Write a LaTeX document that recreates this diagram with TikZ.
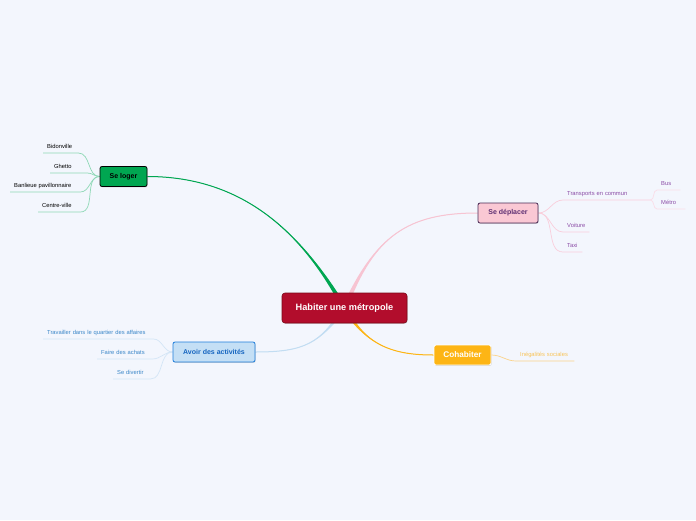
\documentclass[tikz,border=0pt]{standalone}
\usepackage{fontspec}
\setmainfont{Liberation Sans}
\usetikzlibrary{calc,shadows}

\definecolor{pagebg}{HTML}{F3F6FD}
\definecolor{hubred}{HTML}{B20D2C}
\definecolor{hubedge}{HTML}{7A0818}
\definecolor{logergreen}{HTML}{00A651}
\definecolor{logertwig}{HTML}{8ED8B6}
\definecolor{depfill}{HTML}{FAC8D4}
\definecolor{depedge}{HTML}{4A2B55}
\definecolor{deptext}{HTML}{5E2F73}
\definecolor{depleaf}{HTML}{8A4BA6}
\definecolor{deppink}{HTML}{F7C4D2}
\definecolor{deptwig}{HTML}{F9CEDB}
\definecolor{depsub}{HTML}{FADDE7}
\definecolor{actfill}{HTML}{C4DFF5}
\definecolor{actedge}{HTML}{1E7DDB}
\definecolor{acttext}{HTML}{1565C0}
\definecolor{actleaf}{HTML}{3A86C8}
\definecolor{actbranch}{HTML}{C2DDF2}
\definecolor{acttwig}{HTML}{D3E5F6}
\definecolor{cohyellow}{HTML}{FDB515}
\definecolor{cohleaf}{HTML}{F8C357}
\definecolor{cohtwig}{HTML}{FBD38A}

\pgfdeclarelayer{bg}
\pgfdeclarelayer{links}
\pgfsetlayers{bg,links,main}

% tapered main branch: colour, from, to, first control offset, second control offset
\newcommand{\branch}[5]{%
  \fill[#1] (#2) .. controls ($(#2)+(#4)$) and ($(#3)+(#5)$) .. ($(#3)+(-2.8,0)$)
    -- ($(#3)+(2.8,0)$) .. controls ($(#3)+(#5)$) and ($(#2)+(#4)$) .. (#2) -- cycle;
  \draw[#1, line width=1pt] (#2) .. controls +(#4) and +(#5) .. (#3);}

\begin{document}
\begin{tikzpicture}[x=1pt, y=-1pt,
    hubbox/.style={draw=hubedge, line width=0.6pt, fill=hubred, text=white,
      rounded corners=3pt, minimum width=125pt, minimum height=30pt, inner sep=0pt,
      font=\fontsize{9.2}{11}\selectfont\bfseries,
      drop shadow={shadow xshift=0.6pt, shadow yshift=-0.8pt, opacity=0.3}},
    topic/.style={rounded corners=2pt, minimum height=20pt, inner sep=0pt,
      line width=0.8pt, font=\fontsize{7}{8.5}\selectfont\bfseries,
      drop shadow={shadow xshift=0.6pt, shadow yshift=-0.8pt, opacity=0.3}},
    leaf/.style={anchor=south west, inner xsep=4pt, inner ysep=3pt, align=left,
      text height=4.4pt, text depth=1.2pt, font=\fontsize{5.8}{7}\selectfont},
    twig/.style={line width=0.7pt}]

  % page
  \begin{pgfonlayer}{bg}
    \fill[pagebg] (0,0) rectangle (696,520);
  \end{pgfonlayer}
  \useasboundingbox (0,0) rectangle (696,520);

  % centre and topics
  \node[hubbox] (hub) at (344.5,308) {Habiter une métropole};
  \node[topic, draw=black, fill=logergreen, text=black, minimum width=47pt] (loger) at (123.5,176.5) {Se loger};
  \node[topic, draw=depedge, fill=depfill, text=deptext, minimum width=60pt] (deplacer) at (508,213) {Se déplacer};
  \node[topic, draw=actedge, fill=actfill, text=acttext, minimum width=82pt] (activites) at (214,352) {Avoir des activités};
  \node[topic, draw=white, fill=cohyellow, text=white, minimum width=57pt,
    font=\fontsize{8.2}{10}\selectfont\bfseries] (cohab) at (462.5,355) {Cohabiter};

  % Se loger leaves
  \node[leaf, text width=27pt] (bidon) at (43,153) {Bidonville};
  \node[leaf, text width=29pt] (ghetto) at (50,173) {Ghetto};
  \node[leaf, text width=62pt] (banlieue) at (10,192) {Banlieue pavillonnaire};
  \node[leaf, text width=34pt] (centre) at (38,212) {Centre-ville};

  % Se deplacer leaves
  \node[leaf, text width=79pt, text=depleaf] (transports) at (563,200) {Transports en commun};
  \node[leaf, text width=18pt, text=depleaf] (voiture) at (563,232) {Voiture};
  \node[leaf, text width=11pt, text=depleaf] (taxi) at (563,252) {Taxi};
  \node[leaf, text width=15pt, text=depleaf] (bus) at (657,190) {Bus};
  \node[leaf, text width=20pt, text=depleaf] (metro) at (657,209) {Métro};

  % Avoir des activites leaves
  \node[leaf, text width=102pt, text=actleaf] (travail) at (43,339) {Travailler dans le quartier des affaires};
  \node[leaf, text width=47pt, text=actleaf] (achats) at (97,359) {Faire des achats};
  \node[leaf, text width=29pt, text=actleaf] (divertir) at (113,379) {Se divertir};

  % Cohabiter leaf
  \node[leaf, text width=50pt, text=cohleaf] (inegal) at (516,361) {Inégalités sociales};

  \begin{pgfonlayer}{links}
    % main branches
    \branch{logergreen}{loger.east}{hub.center}{100,0}{-40,-70}
    \branch{deppink}{deplacer.west}{hub.center}{-70,0}{30,-72}
    \branch{actbranch}{activites.east}{hub.center}{50,0}{-25,35}
    \branch{cohyellow}{cohab.west}{hub.center}{-40,0}{22,38}

    % underlines and twigs
    \foreach \n in {bidon,ghetto,banlieue,centre}{
      \draw[twig, logertwig] (\n.south west) -- (\n.south east) to[out=0,in=180] (loger.west);
    }
    \foreach \n in {transports,voiture,taxi}{
      \draw[twig, deptwig] (\n.south east) -- (\n.south west) to[out=180,in=0] (deplacer.east);
    }
    \foreach \n in {bus,metro}{
      \draw[twig, depsub] (\n.south east) -- (\n.south west) to[out=180,in=0] (transports.south east);
    }
    \foreach \n in {travail,achats,divertir}{
      \draw[twig, acttwig] (\n.south west) -- (\n.south east) to[out=0,in=180] (activites.west);
    }
    \draw[twig, cohtwig] (inegal.south east) -- (inegal.south west) to[out=180,in=0] (cohab.east);
  \end{pgfonlayer}
\end{tikzpicture}
\end{document}
